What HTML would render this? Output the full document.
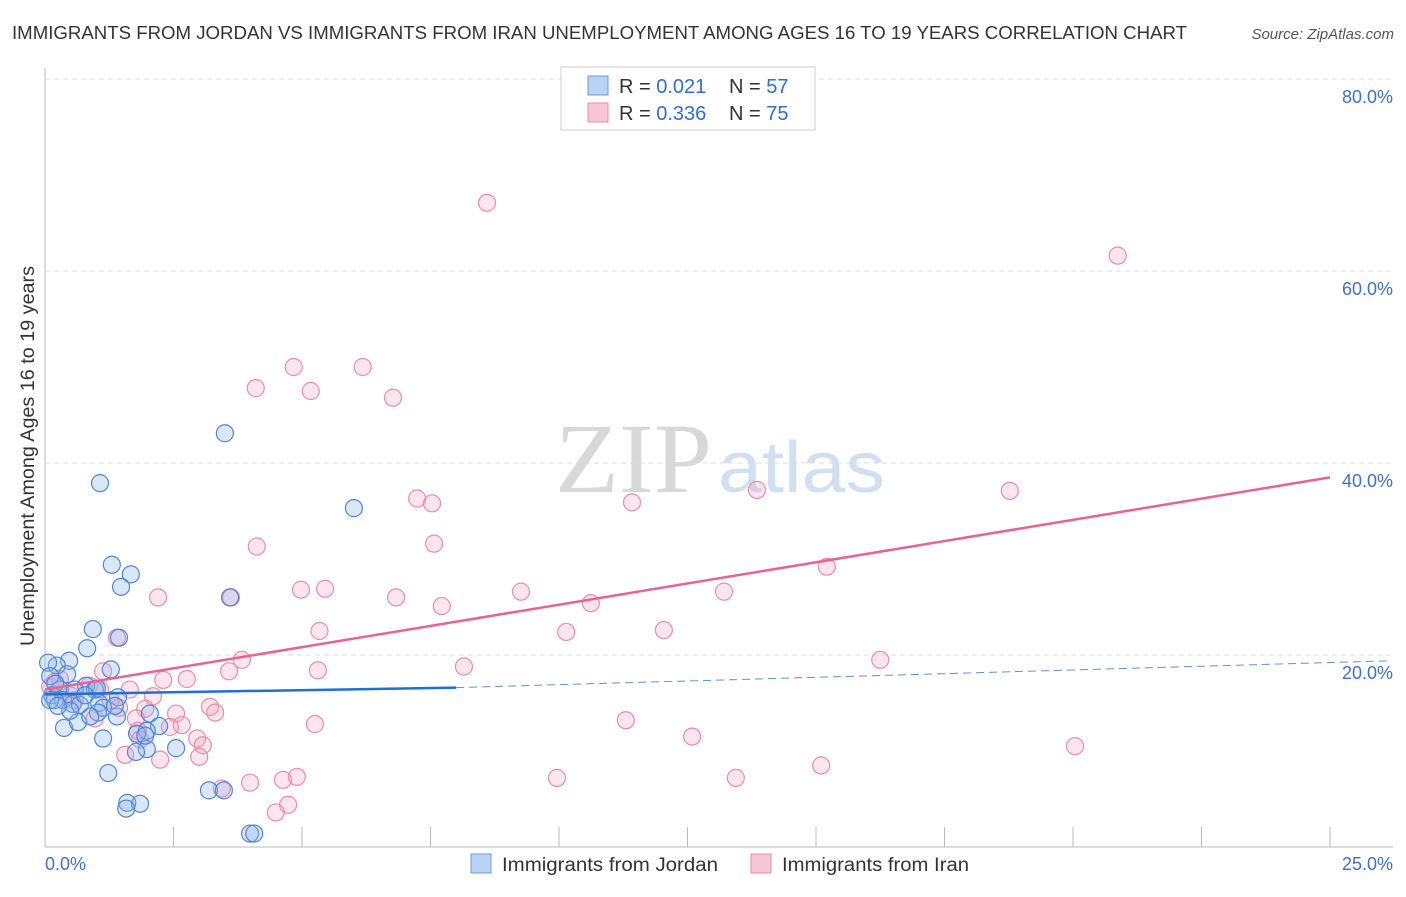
<!DOCTYPE html>
<html><head><meta charset="utf-8"><style>
body{margin:0;background:#fff;font-family:"Liberation Sans",sans-serif;}
</style></head><body>
<svg id="c" width="1406" height="892" xmlns="http://www.w3.org/2000/svg" font-family="Liberation Sans, sans-serif">
<text x="12" y="39" font-size="18" fill="#333" textLength="1175" lengthAdjust="spacingAndGlyphs">IMMIGRANTS FROM JORDAN VS IMMIGRANTS FROM IRAN UNEMPLOYMENT AMONG AGES 16 TO 19 YEARS CORRELATION CHART</text>
<text x="1394" y="39" font-size="15" fill="#555" font-style="italic" text-anchor="end">Source: ZipAtlas.com</text>
<text x="555" y="492" font-size="100" fill="#d8d8d8" style="font-family:'Liberation Serif',serif" textLength="157" lengthAdjust="spacingAndGlyphs">ZIP</text>
<text x="718" y="492" font-size="72" fill="#cfe0f3" textLength="167" lengthAdjust="spacingAndGlyphs">atlas</text>
<text transform="translate(34,456) rotate(-90)" font-size="19" fill="#333" text-anchor="middle" textLength="380" lengthAdjust="spacingAndGlyphs">Unemployment Among Ages 16 to 19 years</text>
<g id="grid"></g><g id="pts"></g><g id="lines"></g>
<g>
<rect x="561" y="67" width="254" height="63" fill="#fff" stroke="#ccc"/>
<rect x="588" y="76" width="20" height="19" fill="#b9d3f5" stroke="#6a9be0"/>
<rect x="588" y="103" width="20" height="19" fill="#f9c6d5" stroke="#ea8cab"/>
<text x="619" y="93" font-size="20" fill="#333">R = <tspan fill="#2f6fcf">0.021</tspan></text>
<text x="729" y="93" font-size="20" fill="#333">N = <tspan fill="#2f6fcf">57</tspan></text>
<text x="619" y="120" font-size="20" fill="#333">R = <tspan fill="#2f6fcf">0.336</tspan></text>
<text x="729" y="120" font-size="20" fill="#333">N = <tspan fill="#2f6fcf">75</tspan></text>
</g>
<g>
<rect x="471" y="854" width="20" height="19" fill="#b9d3f5" stroke="#6a9be0"/>
<text x="502" y="871" font-size="19" fill="#333" textLength="216" lengthAdjust="spacingAndGlyphs">Immigrants from Jordan</text>
<rect x="751" y="854" width="20" height="19" fill="#f9c6d5" stroke="#ea8cab"/>
<text x="782" y="871" font-size="19" fill="#333" textLength="187" lengthAdjust="spacingAndGlyphs">Immigrants from Iran</text>
</g>
</svg>
<script>
const xTicks=[0,2.5,5,7.5,10,12.5,15,17.5,20,22.5,25];
const yTicks=[20,40,60,80];
const jordanX=[1.07,3.5,6.01,1.3,1.67,1.48,3.6,0.93,1.44,0.82,1.28,0.47,0.23,0.06,0.43,0.1,0.8,0.97,0.29,0.58,0.14,0.35,0.19,0.54,1.05,1.42,1.13,1.4,1.03,0.37,0.64,2.04,2.22,1.98,1.79,1.13,1.98,1.77,2.55,1.23,1.6,1.85,1.58,3.19,3.48,3.99,4.07,1.01,0.68,0.1,0.88,1.36,0.49,0.25,1.95,0.78,0.2];
const jordanY=[37.9,43.1,35.3,29.4,28.4,27.1,26.0,22.7,21.8,20.7,18.5,19.4,18.9,19.2,18.0,17.8,16.8,16.4,16.4,16.4,15.8,15.3,15.3,14.9,15.0,15.6,14.5,13.6,14.0,12.4,13.0,13.9,12.6,12.1,11.8,11.3,10.2,9.9,10.3,7.7,4.6,4.5,4.0,5.9,5.9,1.4,1.4,16.5,14.8,15.3,13.6,14.7,14.2,14.7,11.6,15.8,17.0];
const iranX=[8.6,20.87,4.84,6.18,4.1,5.17,6.77,7.24,7.53,11.42,13.85,18.77,7.57,4.12,2.2,3.62,4.98,5.45,6.83,7.72,9.26,10.62,13.21,15.21,5.34,10.14,12.04,1.4,3.83,16.25,8.15,5.31,3.58,1.13,2.76,2.3,2.1,0.86,0.29,0.1,3.21,3.31,2.55,1.95,1.77,1.44,0.97,2.66,2.43,5.25,11.3,12.59,20.04,2.96,3.07,1.56,3.0,1.81,4.9,4.63,3.99,3.44,9.96,13.44,15.1,4.73,4.49,1.07,0.58,0.49,0.19,1.28,1.65,1.85,2.24];
const iranY=[67.1,61.6,50.0,50.0,47.8,47.5,46.8,36.3,35.8,35.9,37.2,37.1,31.6,31.3,26.0,26.0,26.8,26.9,26.0,25.1,26.6,25.4,26.6,29.2,22.5,22.4,22.6,21.8,19.5,19.5,18.8,18.4,18.3,18.3,17.5,17.4,15.7,16.8,17.5,16.7,14.6,14.0,13.9,14.4,13.4,14.5,13.4,12.7,12.5,12.8,13.2,11.5,10.5,11.3,10.6,9.6,9.4,12.1,7.3,7.0,6.7,6.1,7.2,7.2,8.5,4.4,3.6,16.4,15.3,15.8,17.2,15.3,16.4,11.2,9.1];
const jordanTrend=[[0,15.9],[8.0,16.6],[26.2,19.4]];
const iranTrend=[[0,16.4],[25,38.5]];
const X=v=>45+v*51.4, Y=v=>847-v*9.6;
const NS='http://www.w3.org/2000/svg';
function mk(parent,tag,attrs){const e=document.createElementNS(NS,tag);for(const k in attrs)e.setAttribute(k,attrs[k]);document.getElementById(parent).appendChild(e);return e;}
let e=mk('grid','line',{x1:45,y1:68,x2:45,y2:847,stroke:'#bbb'});


e=mk('grid','line',{x1:45,y1:847,x2:1393,y2:847,stroke:'#bbb'});


xTicks.forEach(t=>{if(t===0)return;const l=mk('grid','line',{x1:X(t),y1:827,x2:X(t),y2:847,stroke:'#bbb'});

});
yTicks.forEach(t=>{const l=mk('grid','line',{x1:45,y1:Y(t),x2:1393,y2:Y(t),stroke:'#ddd','stroke-dasharray':'5,4'});


const tx=mk('grid','text',{x:1393,y:Y(t)+24,'font-size':18,fill:'#3b72cc','text-anchor':'end'});tx.textContent=t.toFixed(1)+'%';

});
let tl=mk('grid','text',{x:45,y:870,'font-size':18,fill:'#3b72cc'});tl.textContent='0.0%';


tl=mk('grid','text',{x:1393,y:870,'font-size':18,fill:'#3b72cc','text-anchor':'end'});tl.textContent='25.0%';


iranX.forEach((v,i)=>{const c=mk('pts','circle',{cx:X(v),cy:Y(iranY[i]),r:8.5,fill:'rgba(245,160,185,0.28)',stroke:'#ea8cab','stroke-width':1.2});

});
jordanX.forEach((v,i)=>{const c=mk('pts','circle',{cx:X(v),cy:Y(jordanY[i]),r:8.5,fill:'rgba(140,180,235,0.32)',stroke:'#4f86d8','stroke-width':1.2});

});
e=mk('lines','line',{x1:X(jordanTrend[0][0]),y1:Y(jordanTrend[0][1]),x2:X(jordanTrend[1][0]),y2:Y(jordanTrend[1][1]),stroke:'#1f6fd6','stroke-width':2.5});


e=mk('lines','line',{x1:X(jordanTrend[1][0]),y1:Y(jordanTrend[1][1]),x2:X(jordanTrend[2][0]),y2:Y(jordanTrend[2][1]),stroke:'#5b92dd','stroke-width':1,'stroke-dasharray':'8,5'});


e=mk('lines','line',{x1:X(iranTrend[0][0]),y1:Y(iranTrend[0][1]),x2:X(iranTrend[1][0]),y2:Y(iranTrend[1][1]),stroke:'#e8648f','stroke-width':2.5});


</script>
</body></html>
